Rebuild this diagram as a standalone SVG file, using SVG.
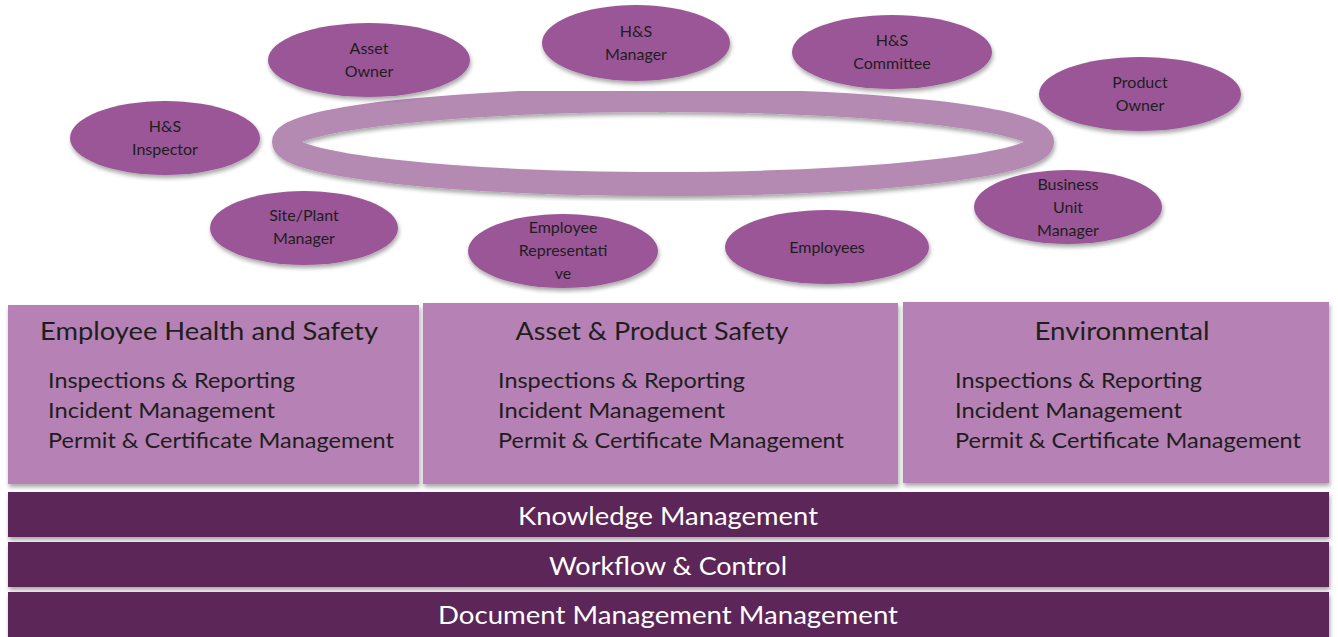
<svg xmlns="http://www.w3.org/2000/svg" width="1338" height="637" viewBox="0 0 1338 637">
<defs>
<filter id="sh" x="-10%" y="-10%" width="120%" height="130%">
<feDropShadow dx="1" dy="3" stdDeviation="2" flood-color="#000" flood-opacity="0.35"/>
</filter>
</defs>
<style>
.role{fill:#9a5796;filter:url(#sh)}
.rt{font-family:Lato,"Liberation Sans",sans-serif;font-size:16px;fill:#1e1e1e;text-anchor:middle}
.box{fill:#b681b4;filter:url(#sh)}
.bh{font-family:Lato,"Liberation Sans",sans-serif;font-size:25px;fill:#1e1e1e;text-anchor:middle}
.bi{font-family:Lato,"Liberation Sans",sans-serif;font-size:22px;fill:#1e1e1e}
.bar{fill:#5c2558;filter:url(#sh)}
.bt{font-family:Lato,"Liberation Sans",sans-serif;font-size:25px;fill:#ffffff;text-anchor:middle}
</style>
<rect width="1338" height="637" fill="#ffffff"/>
<g id="ring">
<ellipse cx="663" cy="142" rx="379" ry="42" fill="none" stroke="#b48ab3" stroke-width="24" filter="url(#sh)"/>
</g>
<g id="connectors"></g>
<g id="asset-owner"><ellipse class="role" cx="369" cy="60" rx="101" ry="37"/><text class="rt" x="369" y="54">Asset</text><text class="rt" x="369" y="77">Owner</text></g>
<g id="hs-inspector"><ellipse class="role" cx="165" cy="138" rx="95" ry="37"/><text class="rt" x="165" y="132">H&amp;S</text><text class="rt" x="165" y="155">Inspector</text></g>
<g id="site-plant-manager"><ellipse class="role" cx="304" cy="228" rx="94" ry="37"/><text class="rt" x="304" y="221">Site/Plant</text><text class="rt" x="304" y="244">Manager</text></g>
<g id="hs-manager"><ellipse class="role" cx="636" cy="43" rx="94" ry="38"/><text class="rt" x="636" y="37">H&amp;S</text><text class="rt" x="636" y="60">Manager</text></g>
<g id="hs-committee"><ellipse class="role" cx="892" cy="52" rx="100" ry="37"/><text class="rt" x="892" y="46">H&amp;S</text><text class="rt" x="892" y="69">Committee</text></g>
<g id="product-owner"><ellipse class="role" cx="1140" cy="94" rx="101" ry="37"/><text class="rt" x="1140" y="88">Product</text><text class="rt" x="1140" y="111">Owner</text></g>
<g id="business-unit-manager"><ellipse class="role" cx="1068" cy="207" rx="94" ry="37"/><text class="rt" x="1068" y="190">Business</text><text class="rt" x="1068" y="213">Unit</text><text class="rt" x="1068" y="236">Manager</text></g>
<g id="employee-representative"><ellipse class="role" cx="563" cy="251" rx="95" ry="37"/><text class="rt" x="563" y="233">Employee</text><text class="rt" x="563" y="256">Representati</text><text class="rt" x="563" y="279">ve</text></g>
<g id="employees"><ellipse class="role" cx="827" cy="247" rx="102" ry="37"/><text class="rt" x="827" y="253">Employees</text></g>

<g id="employee-health-safety">
<rect class="box" x="8" y="305" width="411" height="179"/>
<text class="bh" x="209" y="340" textLength="338" lengthAdjust="spacingAndGlyphs">Employee Health and Safety</text>
<text class="bi" x="48" y="388" textLength="247" lengthAdjust="spacingAndGlyphs">Inspections &amp; Reporting</text>
<text class="bi" x="48" y="418" textLength="227" lengthAdjust="spacingAndGlyphs">Incident Management</text>
<text class="bi" x="48" y="448" textLength="346" lengthAdjust="spacingAndGlyphs">Permit &amp; Certificate Management</text>
</g>
<g id="asset-product-safety">
<rect class="box" x="423" y="303" width="475" height="181"/>
<text class="bh" x="652" y="340" textLength="273" lengthAdjust="spacingAndGlyphs">Asset &amp; Product Safety</text>
<text class="bi" x="498" y="388" textLength="247" lengthAdjust="spacingAndGlyphs">Inspections &amp; Reporting</text>
<text class="bi" x="498" y="418" textLength="227" lengthAdjust="spacingAndGlyphs">Incident Management</text>
<text class="bi" x="498" y="448" textLength="346" lengthAdjust="spacingAndGlyphs">Permit &amp; Certificate Management</text>
</g>
<g id="environmental">
<rect class="box" x="903" y="302" width="426" height="181"/>
<text class="bh" x="1122" y="340" textLength="175" lengthAdjust="spacingAndGlyphs">Environmental</text>
<text class="bi" x="955" y="388" textLength="247" lengthAdjust="spacingAndGlyphs">Inspections &amp; Reporting</text>
<text class="bi" x="955" y="418" textLength="227" lengthAdjust="spacingAndGlyphs">Incident Management</text>
<text class="bi" x="955" y="448" textLength="346" lengthAdjust="spacingAndGlyphs">Permit &amp; Certificate Management</text>
</g>
<g id="knowledge-management">
<rect class="bar" x="8" y="492" width="1321" height="45"/>
<text class="bt" x="668" y="525" textLength="300" lengthAdjust="spacingAndGlyphs">Knowledge Management</text>
</g>
<g id="workflow-control">
<rect class="bar" x="8" y="542" width="1321" height="45"/>
<text class="bt" x="668" y="575" textLength="238" lengthAdjust="spacingAndGlyphs">Workflow &amp; Control</text>
</g>
<g id="document-management">
<rect class="bar" x="8" y="592" width="1321" height="48"/>
<text class="bt" x="668" y="624" textLength="460" lengthAdjust="spacingAndGlyphs">Document Management Management</text>
</g>
</svg>
